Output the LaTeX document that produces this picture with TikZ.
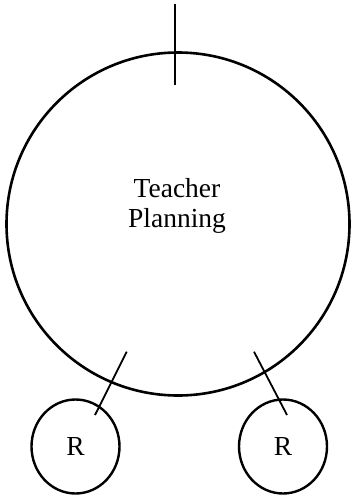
\documentclass[tikz,border=0pt]{standalone}
\usepackage{fontspec}
\setmainfont{Liberation Serif}
\usetikzlibrary{positioning,shapes.geometric}
\tikzset{
  planning/.style={
    circle, draw=black, line width=2.6pt, minimum size=343pt, inner sep=0pt
  },
  resource/.style={
    ellipse, draw=black, line width=2.4pt, minimum width=88pt,
    minimum height=94pt, inner sep=0pt, font=\fontsize{27.5}{30}\selectfont
  },
  caption/.style={
    align=center, inner sep=0pt, font=\fontsize{27.5}{30}\selectfont
  },
  tick/.style={draw=black, line width=1.8pt}
}

\begin{document}
\begin{tikzpicture}[x=1pt,y=-1pt]
    \useasboundingbox (0,0) rectangle (353,498);
    \node[planning] (plan) at (178,224) {};
    \node[caption] (title) at (177,206) {Teacher\\Planning};
    \node[resource] (resL) at (75.5,446.5) {R};
    \node[resource] (resR) at (283,446.5) {R};

    \coordinate (topA) at (175,4);
    \coordinate (topB) at (175,85);
    \coordinate (legLA) at (126.7,351.7);
    \coordinate (legLB) at (95,415);
    \coordinate (legRA) at (254,351.7);
    \coordinate (legRB) at (287,415);

    \draw[tick] (topA) -- (topB);
    \draw[tick] (legLA) -- (legLB);
    \draw[tick] (legRA) -- (legRB);
  \end{tikzpicture}
\end{document}
